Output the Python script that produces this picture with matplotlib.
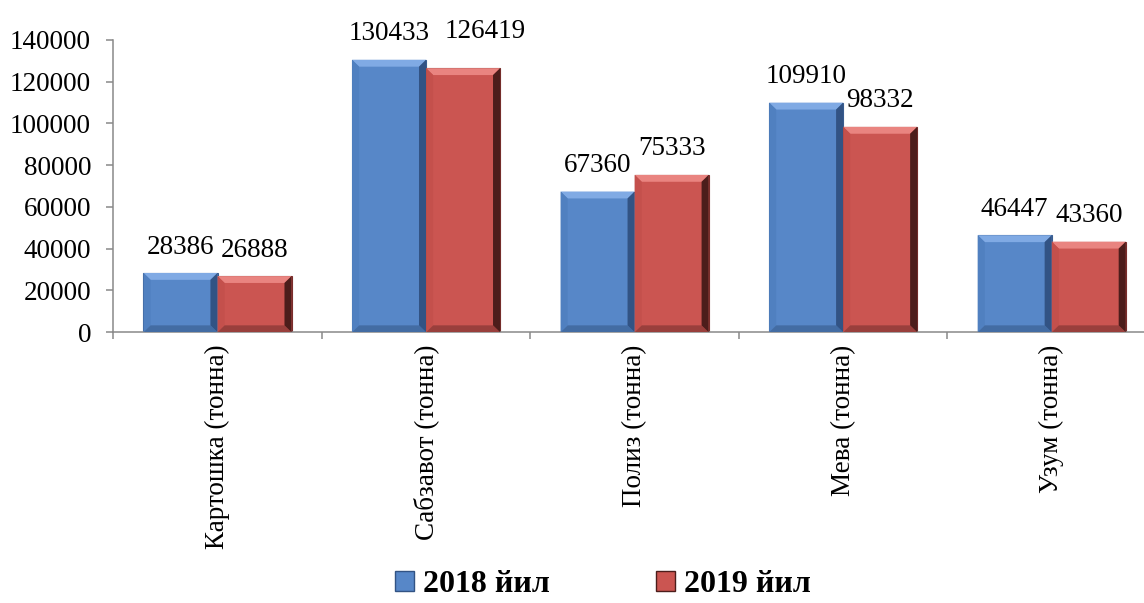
import matplotlib.pyplot as plt
from matplotlib.patches import Polygon
import numpy as np

plt.rcParams['font.family'] = ['Liberation Serif', 'DejaVu Serif']

categories = ["Картошка (тонна)", "Сабзавот (тонна)", "Полиз (тонна)", "Мева (тонна)", "Узум (тонна)"]
values_2018 = [28386, 130433, 67360, 109910, 46447]
values_2019 = [26888, 126419, 75333, 98332, 43360]
series_names = ["2018 йил", "2019 йил"]

# face, top, left, bottom, right, edge
blue = ['#5787C8', '#80AAE4', '#5080C0', '#436CA3', '#325384', '#3A5F92']
red = ['#CB5551', '#E98480', '#C4504C', '#993F3C', '#4C1D1B', '#7A2E2C']

fig = plt.figure(figsize=(11.44, 6.03), dpi=100)
ax = fig.add_axes([0.099, 0.449, 0.9115, 0.485])

x = np.arange(len(categories))
w = 0.355
b1 = ax.bar(x - w / 2, values_2018, w, color=blue[0], edgecolor=blue[5], linewidth=0.8, zorder=2)
b2 = ax.bar(x + w / 2, values_2019, w, color=red[0], edgecolor=red[5], linewidth=0.8, zorder=2)

# bevel edges, sizes in data units (~7 px)
bx = 0.034
by = 3300


def bevel(bars, cols):
    for p in bars:
        x0, y0 = p.get_x(), p.get_y()
        x1, y1 = x0 + p.get_width(), y0 + p.get_height()
        top = [(x0, y1), (x1, y1), (x1 - bx, y1 - by), (x0 + bx, y1 - by)]
        left = [(x0, y0), (x0, y1), (x0 + bx, y1 - by), (x0 + bx, y0 + by)]
        bottom = [(x0, y0), (x1, y0), (x1 - bx, y0 + by), (x0 + bx, y0 + by)]
        right = [(x1, y0), (x1, y1), (x1 - bx, y1 - by), (x1 - bx, y0 + by)]
        for poly, c in ((top, cols[1]), (left, cols[2]), (bottom, cols[3]), (right, cols[4])):
            ax.add_patch(Polygon(poly, closed=True, fc=c, ec='none', zorder=3))


bevel(b1, blue)
bevel(b2, red)

# label nudges in points (dx, dy), as placed in the original
nudge_2019 = [(0, 0), (16, 8), (0, 0), (0, 0), (0, 0)]

for p, v in zip(b1, values_2018):
    ax.annotate(str(v), (p.get_x() + p.get_width() / 2, v), xytext=(0, 14), textcoords='offset points',
                ha='center', va='baseline', fontsize=19.5)
for p, v, (dx, dy) in zip(b2, values_2019, nudge_2019):
    ax.annotate(str(v), (p.get_x() + p.get_width() / 2, v), xytext=(dx, 14 + dy), textcoords='offset points',
                ha='center', va='baseline', fontsize=19.5)

ax.set_xlim(-0.5, len(categories) - 0.5)
ax.set_ylim(0, 140000)
ax.set_yticks(range(0, 140001, 20000))
ax.tick_params(axis='y', labelsize=19.5, direction='out', length=5, width=1.1, color='#898989', pad=11)

ax.set_xticks(np.arange(-0.5, len(categories), 1.0))
ax.set_xticklabels([])
ax.set_xticks(x, minor=True)
ax.set_xticklabels(categories, minor=True, rotation=90, fontsize=19.5)
ax.tick_params(axis='x', which='major', length=5, width=1.1, color='#898989')
ax.tick_params(axis='x', which='minor', length=0, pad=9)

for s in ['top', 'right']:
    ax.spines[s].set_visible(False)
for s in ['left', 'bottom']:
    ax.spines[s].set_color('#898989')
    ax.spines[s].set_linewidth(1.1)

h1 = plt.Rectangle((0, 0), 1, 1, fc=blue[0], ec=blue[4])
h2 = plt.Rectangle((0, 0), 1, 1, fc=red[0], ec=red[4])
fig.legend([h1, h2], series_names, loc='center', bbox_to_anchor=(0.527, 0.03), ncol=2,
           frameon=False, prop={'weight': 'bold', 'size': 23}, columnspacing=3.3,
           handlelength=0.6, handleheight=0.6, handletextpad=0.3, borderpad=0)

fig.savefig('out.png', dpi=100)
